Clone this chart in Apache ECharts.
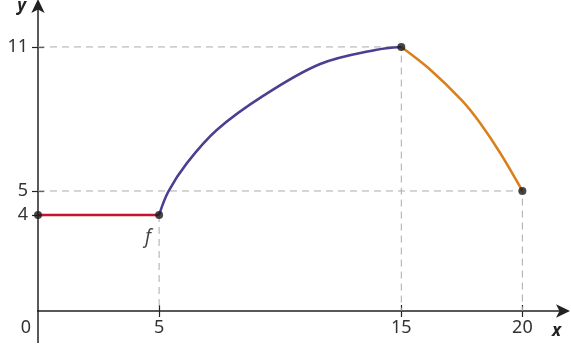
<!DOCTYPE html>
<html>
<head>
<meta charset="utf-8">
<script src="https://cdn.jsdelivr.net/npm/echarts@6/dist/echarts.min.js"></script>
<style>
html, body { margin: 0; padding: 0; background: #fff; }
#main { width: 571px; height: 351px; }
</style>
</head>
<body>
<div id="main"></div>
<script>
// values
var xTicks = [0, 5, 15, 20];
var yTicks = [4, 5, 11];
var redPart = [[0, 4], [5, 4]];
var bluePart = [[5, 4], [5.38, 4.97], [6.14, 6.15], [7.38, 7.54], [9.31, 8.97],
    [11.65, 10.29], [13.93, 10.875], [15, 11]];
var orangePart = [[15, 11], [16.13, 10.11], [17.5, 8.77], [18.26, 7.82], [19.09, 6.57], [20, 5]];
var dots = [[0, 4], [5, 4], [15, 11], [20, 5]];
var guides1 = [[0, 11], [15, 11], [15, 0]];
var guides2 = [[0, 5], [20, 5], [20, 0]];
var guides3 = [[5, 4], [5, 0]];
// bits of the axes that run past the origin
var xAxisTail = [[-1.57, 0], [0, 0]];
var yAxisTail = [[0, -1.33], [0, 0]];

var myChart = echarts.init(document.getElementById('main'));
var font = 'Noto Sans';
var axisCol = '#222';

function xAx(inside, main) {
    return {
        type: 'value', min: 0, max: 21.8, position: 'bottom',
        splitLine: { show: false },
        axisLine: { show: main, onZero: false, symbol: ['none', 'arrow'], symbolSize: [10, 14], symbolOffset: [0, 4],
            lineStyle: { color: axisCol, width: 1.5 } },
        axisTick: { show: true, inside: inside, length: 6, customValues: [5, 15, 20],
            lineStyle: { color: axisCol, width: 1.2 } },
        axisLabel: {
            show: main, customValues: xTicks, margin: 8, fontFamily: font, fontSize: 18, color: '#333',
            formatter: function (v) { return v === 0 ? '{z|0}' : String(v); },
            rich: { z: { padding: [0, 24, 0, 0], fontFamily: font, fontSize: 18, color: '#333' } }
        },
        name: main ? 'x' : '', nameLocation: 'end', nameGap: -14,
        nameTextStyle: { fontFamily: font, fontSize: 17, fontWeight: 'bold', fontStyle: 'italic', color: '#222',
            verticalAlign: 'top', padding: [12, 0, 0, 0] }
    };
}
function yAx(inside, main) {
    return {
        type: 'value', min: 0, max: 12.83, position: 'left',
        splitLine: { show: false },
        axisLine: { show: main, onZero: false, symbol: ['none', 'arrow'], symbolSize: [10, 14], symbolOffset: [0, 4],
            lineStyle: { color: axisCol, width: 1.5 } },
        axisTick: { show: true, inside: inside, length: 6, customValues: yTicks,
            lineStyle: { color: axisCol, width: 1.2 } },
        axisLabel: { show: main, customValues: yTicks, margin: 10, fontFamily: font, fontSize: 18, color: '#333' },
        name: main ? 'y' : '', nameLocation: 'end', nameGap: -12,
        nameTextStyle: { fontFamily: font, fontSize: 17, fontWeight: 'bold', fontStyle: 'italic', color: '#222',
            align: 'right', padding: [0, 12, 0, 0] }
    };
}

function guide(d) {
    return { type: 'line', data: d, symbol: 'none', silent: true, z: 1,
        lineStyle: { color: '#aaa', width: 1, type: [7, 5] } };
}
function curve(d, col) {
    return { type: 'line', data: d, symbol: 'none', smooth: 0.35, z: 3,
        lineStyle: { color: col, width: 2.5 } };
}
function tail(d) {
    return { type: 'line', data: d, symbol: 'none', clip: false, silent: true, z: 2,
        lineStyle: { color: axisCol, width: 1.5 } };
}

var option = {
    animation: false,
    grid: { left: 38, right: 5, top: 3, bottom: 40, outerBoundsMode: 'none' },
    xAxis: [xAx(false, true), xAx(true, false)],
    yAxis: [yAx(false, true), yAx(true, false)],
    series: [
        tail(xAxisTail), tail(yAxisTail),
        guide(guides1), guide(guides2), guide(guides3),
        curve(redPart, '#c4122f'),
        curve(bluePart, '#4b3f91'),
        curve(orangePart, '#d9801c'),
        {
            type: 'scatter', data: dots, symbolSize: 8, z: 5, clip: false,
            itemStyle: { color: '#1a1a1a' },
            label: {
                show: true, position: 'bottom', offset: [-11, 4],
                fontFamily: font, fontSize: 19, fontStyle: 'italic', color: '#111',
                formatter: function (p) { return p.dataIndex === 1 ? 'f' : ''; }
            }
        }
    ]
};
myChart.setOption(option);
</script>
</body>
</html>
